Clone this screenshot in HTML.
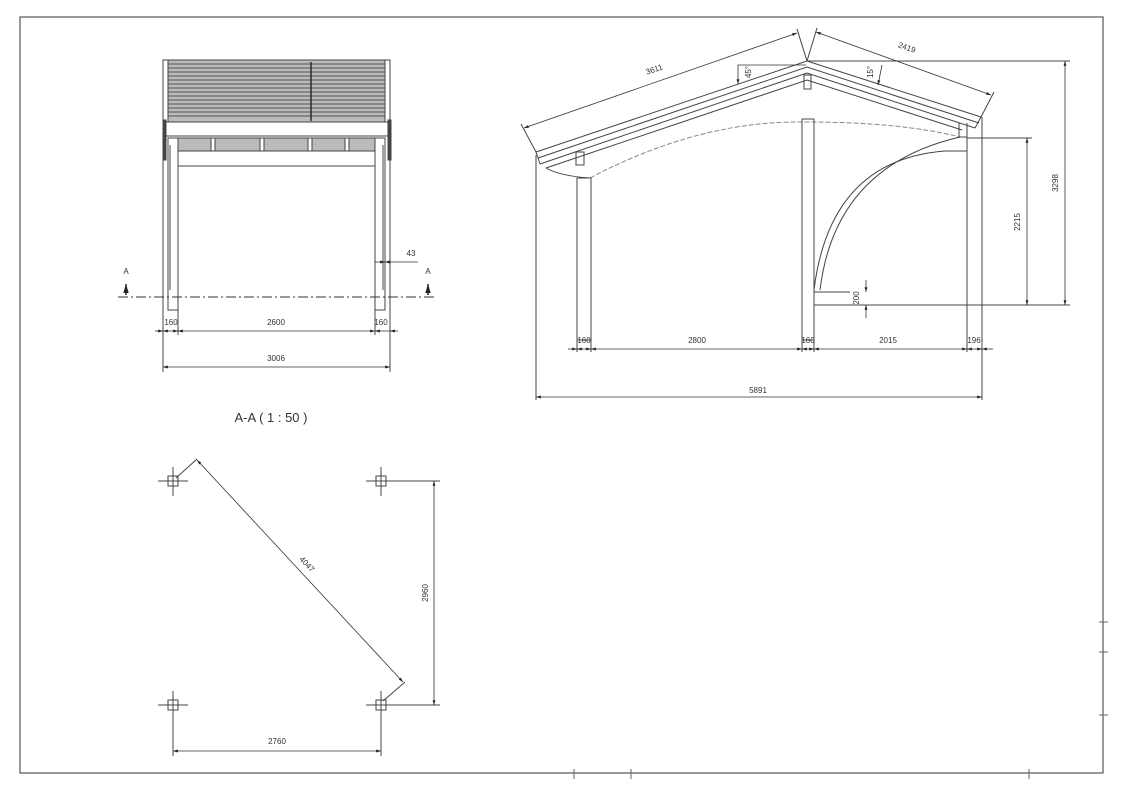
<!DOCTYPE html>
<html><head><meta charset="utf-8"><style>
html,body{margin:0;padding:0;background:#fff}
svg{display:block}
text{font-family:"Liberation Sans",sans-serif;fill:#333}
</style></head><body>
<svg width="1123" height="793" viewBox="0 0 1123 793" xmlns="http://www.w3.org/2000/svg">
<defs>
<marker id="a" viewBox="0 0 10 10" refX="10" refY="5" markerWidth="6" markerHeight="6" orient="auto-start-reverse"><path d="M0,2 L10,5 L0,8z" fill="#222"/></marker>
</defs>
<rect x="20" y="17" width="1083" height="756" fill="none" stroke="#555" stroke-width="1.2"/>
<g stroke="#666" stroke-width="1">
<line x1="574" y1="769" x2="574" y2="779"/><line x1="631" y1="769" x2="631" y2="779"/><line x1="1029" y1="769" x2="1029" y2="779"/>
<line x1="1099" y1="622" x2="1108" y2="622"/><line x1="1099" y1="652" x2="1108" y2="652"/><line x1="1099" y1="715" x2="1108" y2="715"/>
</g>

<!-- FRONT VIEW -->
<g stroke="#444" stroke-width="1" fill="none">
<rect x="163" y="60" width="227" height="62" fill="#bbb"/>
<g stroke="#666" stroke-width="1.2">
<line x1="168" y1="64" x2="386" y2="64"/><line x1="168" y1="68" x2="386" y2="68"/><line x1="168" y1="72" x2="386" y2="72"/><line x1="168" y1="76" x2="386" y2="76"/><line x1="168" y1="80" x2="386" y2="80"/><line x1="168" y1="84" x2="386" y2="84"/><line x1="168" y1="88" x2="386" y2="88"/><line x1="168" y1="92" x2="386" y2="92"/><line x1="168" y1="96" x2="386" y2="96"/><line x1="168" y1="100" x2="386" y2="100"/><line x1="168" y1="104" x2="386" y2="104"/><line x1="168" y1="108" x2="386" y2="108"/><line x1="168" y1="112" x2="386" y2="112"/><line x1="168" y1="116" x2="386" y2="116"/>
</g>
<rect x="163" y="60" width="5" height="62" fill="#fff"/><rect x="385" y="60" width="5" height="62" fill="#fff"/>
<line x1="311" y1="62" x2="311" y2="121" stroke="#222" stroke-width="1.4"/>
<rect x="163" y="122" width="227" height="14" fill="#fff"/>
<rect x="178" y="138" width="197" height="13" fill="#bbb"/>
<g fill="#fff"><rect x="211" y="138" width="4" height="13"/><rect x="260" y="138" width="4" height="13"/><rect x="308" y="138" width="4" height="13"/><rect x="345" y="138" width="4" height="13"/></g>
<line x1="178" y1="166" x2="375" y2="166"/>
<rect x="163" y="120" width="3" height="40" fill="#444"/><rect x="388" y="120" width="3" height="40" fill="#444"/>
<line x1="163" y1="120" x2="163" y2="335"/><line x1="390" y1="120" x2="390" y2="335"/>
<rect x="168" y="138" width="10" height="172"/><rect x="375" y="138" width="10" height="172"/>
<line x1="170" y1="145" x2="170" y2="290"/><line x1="383" y1="145" x2="383" y2="290"/>
<line x1="178" y1="310" x2="178" y2="335"/><line x1="375" y1="310" x2="375" y2="335"/>
<line x1="163" y1="335" x2="163" y2="372"/><line x1="390" y1="335" x2="390" y2="372"/>
</g>
<line x1="118" y1="297" x2="437" y2="297" stroke="#333" stroke-width="1" stroke-dasharray="10,3,2,3"/>
<text x="126" y="274" font-size="8" text-anchor="middle">A</text><text x="428" y="274" font-size="8" text-anchor="middle">A</text>
<line x1="126" y1="295" x2="126" y2="284" stroke="#222" stroke-width="1.5" marker-end="url(#a)"/>
<line x1="428" y1="295" x2="428" y2="284" stroke="#222" stroke-width="1.5" marker-end="url(#a)"/>
<g stroke="#333" stroke-width="0.8">
<line x1="155" y1="331" x2="163" y2="331" marker-end="url(#a)"/><line x1="163" y1="331" x2="178" y2="331" marker-start="url(#a)" marker-end="url(#a)"/>
<line x1="178" y1="331" x2="375" y2="331" marker-start="url(#a)" marker-end="url(#a)"/>
<line x1="375" y1="331" x2="390" y2="331" marker-start="url(#a)"/><line x1="398" y1="331" x2="390" y2="331" marker-end="url(#a)"/>
<line x1="163" y1="367" x2="390" y2="367" marker-start="url(#a)" marker-end="url(#a)"/>
<line x1="375" y1="262" x2="385" y2="262" marker-end="url(#a)"/><line x1="418" y1="262" x2="385" y2="262" marker-end="url(#a)"/>
</g>
<g font-size="8" text-anchor="middle"><text x="171" y="325">160</text><text x="276" y="325">2600</text><text x="381" y="325">160</text><text x="276" y="361">3006</text><text x="411" y="256">43</text></g>
<text x="271" y="422" font-size="13" text-anchor="middle">A-A ( 1 : 50 )</text>

<!-- SIDE VIEW -->
<g stroke="#444" stroke-width="1" fill="none">
<polyline points="536,152 807,61 981,117"/>
<polyline points="538,158 807,67 979,123"/>
<polyline points="540,164 807,73 975,128"/>
<polyline points="546,168 807,80 962,130"/>
<line x1="536" y1="152" x2="540" y2="164"/><line x1="981" y1="117" x2="975" y2="128"/>
<rect x="576" y="152" width="8" height="13"/>
<rect x="804" y="75" width="7" height="14"/>
<path d="M546,168 Q560,176 590,178"/>
<path d="M590,178 Q700,120 806,122 Q900,122 960,137" stroke-dasharray="5,2" stroke="#888"/>
<rect x="577" y="178" width="14" height="162"/>
<line x1="577" y1="340" x2="577" y2="352"/><line x1="591" y1="340" x2="591" y2="352"/>
<rect x="802" y="119" width="12" height="221"/>
<line x1="802" y1="340" x2="802" y2="352"/><line x1="814" y1="340" x2="814" y2="352"/>
<line x1="959" y1="123" x2="959" y2="138"/>
<line x1="967" y1="123" x2="967" y2="352"/><line x1="982" y1="117" x2="982" y2="400"/>
<path d="M814,290 Q830,160 945,151 L967,151"/>
<path d="M820,290 Q835,166 960,137 L967,137"/>
<line x1="814" y1="292" x2="850" y2="292"/>
<line x1="814" y1="305" x2="1070" y2="305"/>
<line x1="967" y1="138" x2="1032" y2="138"/>
<line x1="807" y1="61" x2="1070" y2="61"/>
<line x1="536" y1="155" x2="536" y2="400"/>
<line x1="536" y1="152" x2="521" y2="124"/><line x1="807" y1="61" x2="797" y2="29"/><line x1="807" y1="61" x2="817" y2="28"/><line x1="981" y1="117" x2="994" y2="92"/>
</g>
<g stroke="#333" stroke-width="0.8">
<line x1="524" y1="128" x2="797" y2="33" marker-start="url(#a)" marker-end="url(#a)"/>
<line x1="816" y1="32" x2="991" y2="95" marker-start="url(#a)" marker-end="url(#a)"/>
<line x1="738" y1="65" x2="738" y2="84" marker-end="url(#a)"/><line x1="738" y1="65" x2="806" y2="65"/>
<line x1="882" y1="65" x2="878" y2="85" marker-end="url(#a)"/>
<line x1="1027" y1="138" x2="1027" y2="305" marker-start="url(#a)" marker-end="url(#a)"/>
<line x1="1065" y1="61" x2="1065" y2="305" marker-start="url(#a)" marker-end="url(#a)"/>
<line x1="866" y1="280" x2="866" y2="292" marker-end="url(#a)"/><line x1="866" y1="318" x2="866" y2="305" marker-end="url(#a)"/>
<line x1="568" y1="349" x2="577" y2="349" marker-end="url(#a)"/><line x1="577" y1="349" x2="591" y2="349" marker-start="url(#a)" marker-end="url(#a)"/>
<line x1="591" y1="349" x2="802" y2="349" marker-start="url(#a)" marker-end="url(#a)"/>
<line x1="802" y1="349" x2="814" y2="349" marker-start="url(#a)" marker-end="url(#a)"/>
<line x1="814" y1="349" x2="967" y2="349" marker-start="url(#a)" marker-end="url(#a)"/>
<line x1="967" y1="349" x2="982" y2="349" marker-start="url(#a)" marker-end="url(#a)"/><line x1="993" y1="349" x2="982" y2="349" marker-end="url(#a)"/>
<line x1="536" y1="397" x2="982" y2="397" marker-start="url(#a)" marker-end="url(#a)"/>
</g>
<g font-size="8" text-anchor="middle">
<text x="584" y="343">160</text><text x="697" y="343">2800</text><text x="808" y="343">160</text><text x="888" y="343">2015</text><text x="974" y="343">196</text>
<text x="758" y="393">5891</text>
<text transform="translate(655,72) rotate(-18.5)">3611</text>
<text transform="translate(906,50) rotate(19)">2419</text>
<text transform="translate(751,72) rotate(-90)">45°</text>
<text transform="translate(873,72) rotate(-90)">15°</text>
<text transform="translate(1020,222) rotate(-90)">2215</text>
<text transform="translate(1058,183) rotate(-90)">3298</text>
<text transform="translate(859,298) rotate(-90)">200</text>
</g>

<!-- PLAN -->
<g stroke="#444" stroke-width="1" fill="none">
<g><line x1="158" y1="481" x2="188" y2="481"/><line x1="173" y1="467" x2="173" y2="496"/><rect x="168" y="476" width="10" height="10"/></g>
<g><line x1="366" y1="481" x2="396" y2="481"/><line x1="381" y1="467" x2="381" y2="496"/><rect x="376" y="476" width="10" height="10"/></g>
<g><line x1="158" y1="705" x2="188" y2="705"/><line x1="173" y1="691" x2="173" y2="720"/><rect x="168" y="700" width="10" height="10"/></g>
<g><line x1="366" y1="705" x2="396" y2="705"/><line x1="381" y1="691" x2="381" y2="720"/><rect x="376" y="700" width="10" height="10"/></g>
<line x1="176" y1="478" x2="197" y2="459"/><line x1="383" y1="701" x2="405" y2="682"/>
<line x1="386" y1="481" x2="440" y2="481"/><line x1="386" y1="705" x2="440" y2="705"/>
<line x1="173" y1="710" x2="173" y2="756"/><line x1="381" y1="710" x2="381" y2="756"/>
</g>
<g stroke="#333" stroke-width="0.8">
<line x1="197" y1="460" x2="403" y2="682" marker-start="url(#a)" marker-end="url(#a)"/>
<line x1="434" y1="481" x2="434" y2="705" marker-start="url(#a)" marker-end="url(#a)"/>
<line x1="173" y1="751" x2="381" y2="751" marker-start="url(#a)" marker-end="url(#a)"/>
</g>
<g font-size="8" text-anchor="middle">
<text transform="translate(305,566) rotate(47)">4047</text>
<text transform="translate(428,593) rotate(-90)">2960</text>
<text x="277" y="744">2760</text>
</g>
</svg>
</body></html>
